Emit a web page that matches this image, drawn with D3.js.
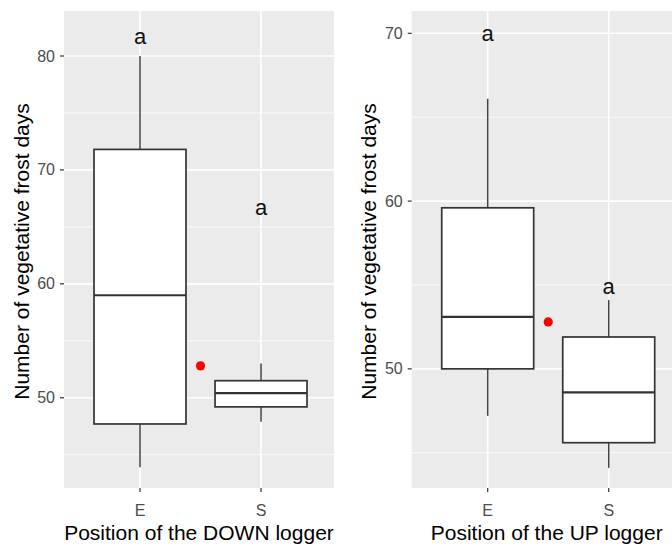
<!DOCTYPE html>
<html>
<head>
<meta charset="utf-8">
<script src="https://cdn.jsdelivr.net/npm/d3@7"></script>
<style>
  body { margin: 0; background: #fff; }
  text { font-family: "Liberation Sans", Arial, sans-serif; }
</style>
</head>
<body>
<svg id="chart" width="672" height="546"></svg>
<script>
// categories
const positions = ["E", "S"];

// DOWN logger box stats (E, S)
const downLow = [43.9, 47.9];
const downQ1 = [47.7, 49.2];
const downMedian = [59.0, 50.4];
const downQ3 = [71.8, 51.5];
const downHigh = [80.0, 53.0];
const downMean = 52.8;
const downLetters = ["a", "a"];
const downLetterY = [81.6, 66.6];
const downTicks = [50, 60, 70, 80];

// UP logger box stats (E, S)
const upLow = [47.2, 44.1];
const upQ1 = [50.0, 45.6];
const upMedian = [53.1, 48.6];
const upQ3 = [59.6, 51.9];
const upHigh = [66.1, 54.1];
const upMean = 52.8;
const upLetters = ["a", "a"];
const upLetterY = [69.9, 54.8];
const upTicks = [50, 60, 70];

const svg = d3.select('#chart');
const panelTop = 11, panelBottom = 488;

function drawPanel(opts) {
  const g = svg.append('g');
  const x = d3.scaleLinear().domain([0.372, 2.603]).range([opts.left, opts.left + 270]);
  const y = d3.scaleLinear().domain(opts.yDomain).range([panelBottom, panelTop]);

  // panel background
  g.append('rect')
    .attr('x', x.range()[0]).attr('y', panelTop)
    .attr('width', 270).attr('height', panelBottom - panelTop)
    .attr('fill', '#EBEBEB');

  // minor gridlines (halfway between majors)
  const minor = [];
  for (let v = Math.ceil(opts.yDomain[0] / 5) * 5; v <= opts.yDomain[1]; v += 5) {
    if (v % 10 !== 0) minor.push(v);
  }
  g.selectAll('.minor').data(minor).enter().append('line')
    .attr('x1', x.range()[0]).attr('x2', x.range()[1])
    .attr('y1', d => y(d)).attr('y2', d => y(d))
    .attr('stroke', '#fff').attr('stroke-width', 0.8);

  // major gridlines
  g.selectAll('.major').data(opts.ticks).enter().append('line')
    .attr('x1', x.range()[0]).attr('x2', x.range()[1])
    .attr('y1', d => y(d)).attr('y2', d => y(d))
    .attr('stroke', '#fff').attr('stroke-width', 1.6);
  g.selectAll('.vmajor').data(positions).enter().append('line')
    .attr('x1', (d, i) => x(i + 1)).attr('x2', (d, i) => x(i + 1))
    .attr('y1', panelTop).attr('y2', panelBottom)
    .attr('stroke', '#fff').attr('stroke-width', 1.6);

  // boxes
  const hw = 0.38;
  positions.forEach((p, i) => {
    const cx = x(i + 1);
    g.append('line')
      .attr('x1', cx).attr('x2', cx)
      .attr('y1', y(opts.high[i])).attr('y2', y(opts.q3[i]))
      .attr('stroke', '#444').attr('stroke-width', 1.5);
    g.append('line')
      .attr('x1', cx).attr('x2', cx)
      .attr('y1', y(opts.q1[i])).attr('y2', y(opts.low[i]))
      .attr('stroke', '#444').attr('stroke-width', 1.5);
    g.append('rect')
      .attr('x', x(i + 1 - hw)).attr('y', y(opts.q3[i]))
      .attr('width', x(i + 1 + hw) - x(i + 1 - hw))
      .attr('height', y(opts.q1[i]) - y(opts.q3[i]))
      .attr('fill', '#fff').attr('stroke', '#333').attr('stroke-width', 1.7);
    g.append('line')
      .attr('x1', x(i + 1 - hw)).attr('x2', x(i + 1 + hw))
      .attr('y1', y(opts.median[i])).attr('y2', y(opts.median[i]))
      .attr('stroke', '#333').attr('stroke-width', 2.2);
    g.append('text')
      .attr('x', cx).attr('y', y(opts.letterY[i]) + 6)
      .attr('text-anchor', 'middle')
      .attr('font-size', 22).attr('fill', '#111')
      .text(opts.letters[i]);
  });

  // mean point between the groups
  g.append('circle')
    .attr('cx', x(1.5)).attr('cy', y(opts.mean)).attr('r', 4.6)
    .attr('fill', 'red');

  // y axis ticks + labels
  g.selectAll('.ytick').data(opts.ticks).enter().append('line')
    .attr('x1', x.range()[0] - 4).attr('x2', x.range()[0])
    .attr('y1', d => y(d)).attr('y2', d => y(d))
    .attr('stroke', '#333').attr('stroke-width', 1.2);
  g.selectAll('.ylab').data(opts.ticks).enter().append('text')
    .attr('x', x.range()[0] - 9).attr('y', d => y(d) + 5.5)
    .attr('text-anchor', 'end').attr('font-size', 16).attr('fill', '#4D4D4D')
    .text(d => d);

  // x axis ticks + labels
  g.selectAll('.xtick').data(positions).enter().append('line')
    .attr('x1', (d, i) => x(i + 1)).attr('x2', (d, i) => x(i + 1))
    .attr('y1', panelBottom).attr('y2', panelBottom + 4)
    .attr('stroke', '#333').attr('stroke-width', 1.2);
  g.selectAll('.xlab').data(positions).enter().append('text')
    .attr('x', (d, i) => x(i + 1)).attr('y', 516)
    .attr('text-anchor', 'middle').attr('font-size', 16).attr('fill', '#4D4D4D')
    .text(d => d);

  // axis titles
  g.append('text')
    .attr('x', (x.range()[0] + x.range()[1]) / 2).attr('y', 540)
    .attr('text-anchor', 'middle').attr('font-size', 21).attr('fill', '#000')
    .text(opts.xTitle);
  g.append('text')
    .attr('transform', `translate(${opts.yTitleX},${(panelTop + panelBottom) / 2 + 2}) rotate(-90)`)
    .attr('text-anchor', 'middle').attr('font-size', 21).attr('fill', '#000')
    .text('Number of vegetative frost days');
}

drawPanel({
  left: 64, yDomain: [42.08, 83.95], ticks: downTicks,
  low: downLow, q1: downQ1, median: downMedian, q3: downQ3, high: downHigh,
  mean: downMean, letters: downLetters, letterY: downLetterY,
  xTitle: 'Position of the DOWN logger', yTitleX: 29
});

drawPanel({
  left: 411.7, yDomain: [42.9, 71.33], ticks: upTicks,
  low: upLow, q1: upQ1, median: upMedian, q3: upQ3, high: upHigh,
  mean: upMean, letters: upLetters, letterY: upLetterY,
  xTitle: 'Position of the UP logger', yTitleX: 376
});
</script>
</body>
</html>
